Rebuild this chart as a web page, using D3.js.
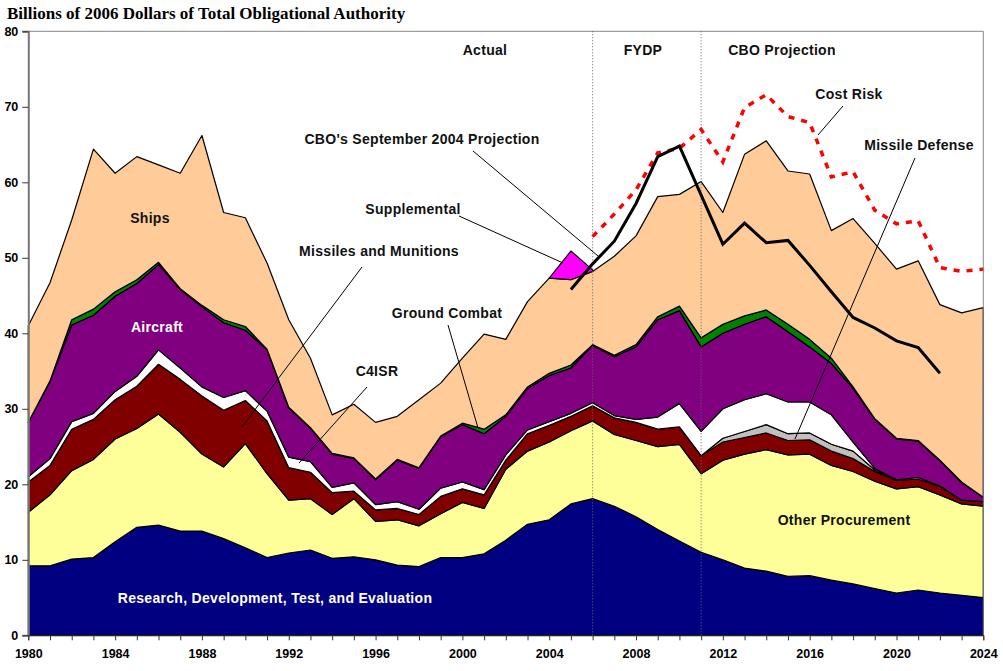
<!DOCTYPE html>
<html><head><meta charset="utf-8">
<script src="https://cdn.jsdelivr.net/npm/d3@7/dist/d3.min.js"></script>
<style>
html,body{margin:0;padding:0;background:#fff;}
svg{display:block;}
.lbl{font-family:"Liberation Sans",Arial,sans-serif;font-weight:bold;font-size:14px;letter-spacing:0.3px;fill:#111;}
</style></head>
<body><svg id="chart" width="1003" height="671"></svg>
<script>
const years = d3.range(1980, 2025);
const rdte = [9.2,9.2,10.1,10.3,12.4,14.3,14.6,13.8,13.8,12.8, 11.6,10.3,10.9,11.3,10.2,10.4,10.0,9.3,9.1,10.3, 10.3,10.8,12.6,14.7,15.3,17.4,18.1,17.1,15.7,14.0, 12.5,11.0,10.0,8.9,8.5,7.8,7.9,7.3,6.8,6.2, 5.6,6.0,5.6,5.3,5.0];
const otherProc = [7.1,9.4,11.7,13.0,13.6,13.1,14.7,13.1,10.2,9.5, 13.8,11.1,7.0,6.8,5.8,7.7,5.1,6.0,5.4,5.8, 7.3,6.0,9.4,9.7,10.3,9.7,10.3,9.5,10.1,11.0, 12.8,10.4,13.2,15.1,16.1,16.1,16.1,15.2,14.9,14.2, 13.8,13.7,13.0,12.1,12.1];
const missiles = [4.0,3.9,5.5,5.3,5.2,5.6,6.6,7.0,7.7,7.5, 5.7,7.0,4.3,3.5,2.9,1.0,1.5,1.5,1.5,2.3, 1.8,1.8,1.2,2.3,2.2,1.9,2.0,2.2,2.4,2.3, 2.3,2.4,2.4,2.2,2.2,1.9,1.9,1.9,1.7,1.3, 1.1,1.0,1.1,0.5,0.6];
const missileDef = [0,0,0,0,0,0,0,0,0,0, 0,0,0,0,0,0,0,0,0,0, 0,0,0,0,0,0,0,0,0,0, 0,0,0.5,0.8,1.1,0.9,0.9,0.9,1.0,0.2, 0,0,0,0,0];
const c4isr = [0.7,0.9,1.0,0.8,1.1,1.3,1.9,1.5,1.2,1.7, 1.3,1.3,1.4,1.4,0.7,1.1,0.7,0.9,0.7,1.1, 0.9,0.7,0.7,0.5,0.5,0.4,0.4,0.3,0.4,1.6, 3.1,3.2,3.9,4.2,4.1,4.2,4.1,3.9,1.2,0.2, 0.1,0.2,0.1,0,0];
const aircraft = [7.2,10.2,12.8,13.0,12.6,12.3,11.3,10.4,10.6,9.9, 8.0,8.1,6.5,4.4,4.4,3.2,3.3,5.5,5.4,6.8, 7.6,7.4,5.1,5.5,6.1,6.0,7.6,7.8,9.6,12.9, 12.3,11.2,10.0,10.0,10.2,9.3,7.3,6.8,7.1,6.5, 5.4,4.8,3.3,2.3,0.6];
const groundCombat = [0.0,0.1,0.7,0.8,0.6,0.5,0.3,0.1,0.2,0.4, 0.5,0.1,0.1,0.1,0.1,0.1,0.1,0.1,0.1,0.1, 0.2,0.6,0.2,0.2,0.3,0.4,0.1,0.2,0.3,0.4, 0.6,1.2,1.2,1.1,0.9,1.0,1.0,0.7,0.2,0.1, 0.1,0.1,0.1,0.1,0.0];
const ships = [12.8,13.0,13.2,21.2,15.7,16.3,12.9,15.3,22.5,14.2, 14.4,11.4,11.6,9.2,5.1,7.1,7.5,5.7,9.0,7.0, 8.6,12.6,10.0,11.3,12.6,11.3,9.7,13.1,14.4,15.9, 14.8,20.7,14.8,21.4,22.4,20.3,21.9,16.9,22.3,23.2, 22.4,23.8,20.6,22.4,25.1];
const supplemental = [0,0,0,0,0,0,0,0,0,0, 0,0,0,0,0,0,0,0,0,0, 0,0,0,0,0,3.8,0.2,0,0,0, 0,0,0,0,0,0,0,0,0,0, 0,0,0,0,0];
const cboYears = d3.range(2005, 2023);
const cbo2004 = [45.8,49.2,52.2,57.2,63.4,64.8,58.3,51.8,54.6,52.0,52.3,49.0,45.5,42.1,40.7,39.0,38.1,34.7];
const riskYears = d3.range(2006, 2025);
const costRisk = [52.8,55.8,59.0,63.9,64.5,67.0,62.7,69.9,71.6,68.7,67.9,60.7,61.4,56.3,54.5,54.9,48.7,48.2,48.5];
const yTicks = [0,10,20,30,40,50,60,70,80];
const xLabelYears = d3.range(1980, 2025, 4);
const keys = ["rdte","other","missiles","mdef","c4isr","aircraft","ground","ships","supp"];
const colors = {rdte:"#000080",other:"#FFFF99",missiles:"#800000",mdef:"#C0C0C0",c4isr:"#FFFFFF",aircraft:"#800080",ground:"#008000",ships:"#FFCC99",supp:"#FF00FF"};

const rows = years.map((yr,i)=>({year:yr,rdte:rdte[i],other:otherProc[i],missiles:missiles[i],mdef:missileDef[i],c4isr:c4isr[i],aircraft:aircraft[i],ground:groundCombat[i],ships:ships[i],supp:supplemental[i]}));

const svg = d3.select("#chart");
const x = d3.scaleLinear().domain([1980,2024]).range([28.3,983.3]);
const y = d3.scaleLinear().domain([0,80]).range([635.3,31.3]);

const stacked = d3.stack().keys(keys)(rows);
const area = d3.area().x(d=>x(d.data.year)).y0(d=>y(d[0])).y1(d=>y(d[1]));

stacked.forEach(s=>{
  let a = area;
  if (s.key==="supp") a = d3.area().defined(d=>d.data.year>=2004 && d.data.year<=2006).x(d=>x(d.data.year)).y0(d=>y(d[0])).y1(d=>y(d[1]));
  svg.append("path").datum(s).attr("d",a).attr("fill",colors[s.key]).attr("stroke","#000").attr("stroke-width",1.2).attr("stroke-linejoin","round");
});

// plot border top and right
svg.append("line").attr("x1",x(1980)).attr("x2",x(2024)).attr("y1",y(80)).attr("y2",y(80)).attr("stroke","#888").attr("stroke-width",1);
svg.append("line").attr("x1",x(2024)).attr("x2",x(2024)).attr("y1",y(80)).attr("y2",y(0)).attr("stroke","#888").attr("stroke-width",1);

// dotted dividers
[2006,2011].forEach(yr=>{
  svg.append("line").attr("x1",x(yr)).attr("x2",x(yr)).attr("y1",y(80)).attr("y2",y(0)).attr("stroke","#666").attr("stroke-width",1).attr("stroke-dasharray","1,2");
});

// lines
const line = d3.line().x(d=>x(d[0])).y(d=>y(d[1]));
svg.append("path").datum(riskYears.map((yr,i)=>[yr,costRisk[i]])).attr("d",line).attr("fill","none").attr("stroke","#FF0000").attr("stroke-width",3.5).attr("stroke-dasharray","6,7");
svg.append("path").datum(cboYears.map((yr,i)=>[yr,cbo2004[i]])).attr("d",line).attr("fill","none").attr("stroke","#000").attr("stroke-width",3);

// axes
const yAxis = d3.axisLeft(y).tickValues(yTicks).tickSize(6).tickPadding(4).tickFormat(d3.format("d"));
const gy = svg.append("g").attr("transform",`translate(${x(1980)},0)`).call(yAxis);
gy.select(".domain").attr("stroke","#777").attr("stroke-width",2);
gy.selectAll(".tick line").attr("stroke","#333");
gy.selectAll("text").attr("font-family","Liberation Sans, Arial, sans-serif").attr("font-weight","bold").attr("font-size","12.5px").attr("fill","#000");

const xAxis = d3.axisBottom(x).tickValues(years).tickSize(5).tickPadding(9).tickFormat(d=>xLabelYears.includes(d)?String(d):"");
const gx = svg.append("g").attr("transform",`translate(0,${y(0)})`).call(xAxis);
gx.select(".domain").attr("stroke","#333").attr("stroke-width",1);
gx.selectAll(".tick line").attr("stroke","#333");
gx.selectAll("text").attr("font-family","Liberation Sans, Arial, sans-serif").attr("font-weight","bold").attr("font-size","12.5px").attr("fill","#000");

// title
svg.append("text").attr("x",7).attr("y",19).attr("font-family","Liberation Serif, Times New Roman, serif").attr("font-weight","bold").attr("font-size","17px").text("Billions of 2006 Dollars of Total Obligational Authority");

// leader lines
const leaders = [
  [843,106,818,135],
  [915,158,795,439],
  [473,151,598,256],
  [459,216,563,263],
  [362,267,242,427],
  [448,325,478,428],
  [367,387,299,463]
];
leaders.forEach(l=>svg.append("line").attr("x1",l[0]).attr("y1",l[1]).attr("x2",l[2]).attr("y2",l[3]).attr("stroke","#000").attr("stroke-width",1));

// labels
const labels = [
  ["Actual",485,55,"middle","#111"],
  ["FYDP",643,55,"middle","#111"],
  ["CBO Projection",782,55,"middle","#111"],
  ["Cost Risk",849,99,"middle","#111"],
  ["Missile Defense",919,150,"middle","#111"],
  ["CBO's September 2004 Projection",422,144,"middle","#111"],
  ["Supplemental",413,214,"middle","#111"],
  ["Missiles and Munitions",379,256,"middle","#111"],
  ["Ground Combat",447,318,"middle","#111"],
  ["C4ISR",377,376,"middle","#111"],
  ["Ships",150,223,"middle","#111"],
  ["Aircraft",157,332,"middle","#fff"],
  ["Other Procurement",844,525,"middle","#111"],
  ["Research, Development, Test, and Evaluation",275,603,"middle","#fff"]
];
labels.forEach(l=>svg.append("text").attr("class","lbl").attr("x",l[1]).attr("y",l[2]).attr("text-anchor",l[3]).style("fill",l[4]).text(l[0]));
</script></body></html>
